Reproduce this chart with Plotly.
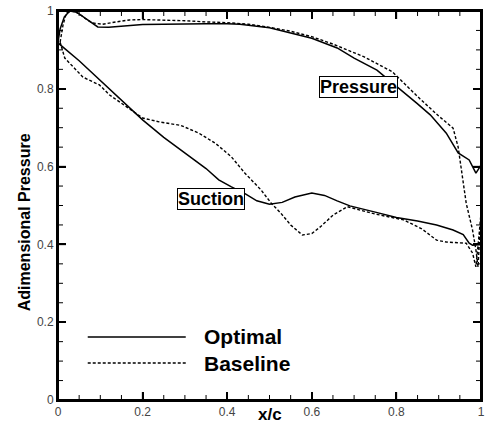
import plotly.graph_objects as go

# ---- data ----
opt_press_x = [0.0, 0.005, 0.015, 0.028, 0.044, 0.06, 0.075, 0.094, 0.12, 0.16, 0.2, 0.25, 0.3, 0.35,
               0.4, 0.43, 0.5, 0.543, 0.6, 0.66, 0.7, 0.754, 0.8, 0.848, 0.88, 0.918, 0.946, 0.972, 0.988, 1.0]
opt_press_y = [0.92, 0.954, 0.985, 1.0, 0.997, 0.985, 0.972, 0.959, 0.958, 0.962, 0.965, 0.966, 0.967, 0.967,
               0.967, 0.966, 0.957, 0.946, 0.93, 0.905, 0.879, 0.848, 0.807, 0.763, 0.733, 0.686, 0.635, 0.617, 0.583, 0.604]

opt_suct_x = [0.0, 0.05, 0.1, 0.15, 0.2, 0.25, 0.3, 0.35, 0.38, 0.41, 0.443, 0.47, 0.5, 0.53, 0.56, 0.6,
              0.63, 0.66, 0.69, 0.75, 0.8, 0.85, 0.895, 0.934, 0.958, 0.972, 0.98, 1.0]
opt_suct_y = [0.918, 0.872, 0.822, 0.77, 0.72, 0.675, 0.635, 0.595, 0.566, 0.548, 0.53, 0.512, 0.503, 0.508,
              0.522, 0.532, 0.526, 0.512, 0.499, 0.483, 0.469, 0.46, 0.45, 0.437, 0.425, 0.403, 0.398, 0.40]

base_press_x = [0.005, 0.012, 0.02, 0.035, 0.05, 0.065, 0.082, 0.105, 0.138, 0.169, 0.2, 0.25, 0.3, 0.35,
                0.4, 0.45, 0.5, 0.55, 0.6, 0.65, 0.7, 0.724, 0.79, 0.855, 0.9, 0.934, 0.946, 0.953, 0.965,
                0.98, 0.988, 0.993]
base_press_y = [0.92, 0.965, 0.995, 1.0, 0.993, 0.98, 0.969, 0.966, 0.972, 0.977, 0.978, 0.977, 0.975, 0.972,
                0.97, 0.966, 0.958, 0.948, 0.934, 0.915, 0.893, 0.882, 0.844, 0.775, 0.73, 0.699, 0.65, 0.6, 0.506,
                0.437, 0.386, 0.342]

base_suct_x = [0.005, 0.016, 0.059, 0.098, 0.122, 0.16, 0.2, 0.239, 0.29, 0.333, 0.372, 0.41, 0.442, 0.48,
               0.504, 0.527, 0.55, 0.578, 0.6, 0.62, 0.65, 0.684, 0.75, 0.817, 0.86, 0.895, 0.918, 0.965,
               0.98, 0.988, 0.995, 1.0]
base_suct_y = [0.92, 0.879, 0.83, 0.81, 0.784, 0.755, 0.725, 0.715, 0.706, 0.686, 0.66, 0.625, 0.583, 0.54,
               0.506, 0.48, 0.45, 0.424, 0.428, 0.445, 0.475, 0.497, 0.478, 0.463, 0.44, 0.411, 0.406, 0.403,
               0.378, 0.342, 0.42, 0.48]

series_names = ["Optimal", "Baseline"]
x_ticks = [0, 0.2, 0.4, 0.6, 0.8, 1]
y_ticks = [0, 0.2, 0.4, 0.6, 0.8, 1]
minor_step = 0.05

FONT = "Liberation Sans, Arial, sans-serif"
DASH = "3px,2px"

fig = go.Figure()
fig.add_trace(go.Scatter(x=opt_press_x + opt_suct_x[::-1], y=opt_press_y + opt_suct_y[::-1],
                         mode="lines", name=series_names[0], showlegend=False,
                         line=dict(color="black", width=1.5)))
fig.add_trace(go.Scatter(x=base_press_x + base_suct_x[::-1], y=base_press_y + base_suct_y[::-1],
                         mode="lines", name=series_names[1], showlegend=False,
                         line=dict(color="black", width=1.4, dash=DASH)))


def axis_style(ticks):
    return dict(range=[ticks[0], ticks[-1]], tickvals=ticks, ticktext=["%g" % v for v in ticks],
                showline=True, linecolor="#000000", linewidth=2, mirror="ticks",
                ticks="inside", ticklen=8, tickwidth=1.5, tickcolor="#000000",
                showgrid=False, zeroline=False, ticklabeloverflow="allow",
                tickfont=dict(family=FONT, size=12, color="#444444"))


fig.update_xaxes(**axis_style(x_ticks))
fig.update_yaxes(**axis_style(y_ticks))

annotations = [
    dict(text="<b>Adimensional Pressure</b>", xref="paper", yref="paper", x=-0.0773, y=0.4576,
         xanchor="center", yanchor="middle",
         textangle=-90, showarrow=False, font=dict(family=FONT, size=16, color="black")),
    dict(text="<b>x/c</b>", xref="paper", yref="paper", x=0.501, y=-0.0360,
         xanchor="center", yanchor="middle",
         showarrow=False, font=dict(family=FONT, size=17, color="black")),
    dict(text="<b>Pressure</b>", x=0.711, y=0.8054, xanchor="center", yanchor="middle", showarrow=False,
         font=dict(family=FONT, size=18, color="black"),
         bordercolor="black", borderwidth=1, borderpad=0, bgcolor="white"),
    dict(text="<b>Suction</b>", x=0.3625, y=0.516, xanchor="center", yanchor="middle", showarrow=False,
         font=dict(family=FONT, size=18, color="black"),
         bordercolor="black", borderwidth=1, borderpad=0, bgcolor="white"),
    dict(text="<b>%s</b>" % series_names[0], xref="paper", yref="paper", x=0.34, y=0.162,
         xanchor="left", yanchor="middle", showarrow=False, font=dict(family=FONT, size=21, color="black")),
    dict(text="<b>%s</b>" % series_names[1], xref="paper", yref="paper", x=0.34, y=0.095,
         xanchor="left", yanchor="middle", showarrow=False, font=dict(family=FONT, size=21, color="black")),
]

# frame + tick marks (inside, mirrored on all four sides), drawn on the axis scales
shapes = [dict(type="rect", xref="paper", yref="paper", x0=0, x1=1, y0=0, y1=1,
               line=dict(color="black", width=2), layer="above")]

n_minor = int(round((x_ticks[-1] - x_ticks[0]) / minor_step))
for i in range(1, n_minor):
    v = x_ticks[0] + i * minor_step
    major = any(abs(v - t) < 1e-9 for t in x_ticks)
    ln, w = (8, 1.5) if major else (5, 1)
    for anchor, sgn in ((0, 1), (1, -1)):
        shapes.append(dict(type="line", xref="x", yref="paper", ysizemode="pixel", yanchor=anchor,
                           x0=v, x1=v, y0=0, y1=sgn * ln, line=dict(color="black", width=w)))
n_minor_y = int(round((y_ticks[-1] - y_ticks[0]) / minor_step))
for i in range(1, n_minor_y):
    v = y_ticks[0] + i * minor_step
    major = any(abs(v - t) < 1e-9 for t in y_ticks)
    ln, w = (8, 1.5) if major else (5, 1)
    for anchor, sgn in ((0, 1), (1, -1)):
        shapes.append(dict(type="line", xref="paper", yref="y", xsizemode="pixel", xanchor=anchor,
                           y0=v, y1=v, x0=0, x1=sgn * ln, line=dict(color="black", width=w)))

# legend sample lines
shapes += [
    dict(type="line", xref="paper", yref="paper", x0=0.0703, x1=0.302, y0=0.162, y1=0.162,
         line=dict(color="black", width=1.6)),
    dict(type="line", xref="paper", yref="paper", x0=0.0703, x1=0.302, y0=0.095, y1=0.095,
         line=dict(color="black", width=1.5, dash=DASH)),
]

fig.update_layout(width=486, height=437, margin=dict(l=58, r=1, t=11, b=37),
                  plot_bgcolor="white", paper_bgcolor="white",
                  annotations=annotations, shapes=shapes, showlegend=False)

js = r"""
document.body.style.margin='0';
var d = document.createElement('div');
d.style.position='absolute'; d.style.left='0px'; d.style.top='0px'; d.style.width='1px'; d.style.height='1px';
d.style.opacity='0'; d.textContent='.';
document.body.appendChild(d);
var els = document.querySelectorAll('path.xlines-above, path.ylines-above, path.xtick, path.ytick, .shapelayer path');
for (var i = 0; i < els.length; i++) { getComputedStyle(els[i]).stroke; }
document.body.getBoundingClientRect();
"""
fig.write_html("out.html", config={"displayModeBar": False}, post_script=js)
